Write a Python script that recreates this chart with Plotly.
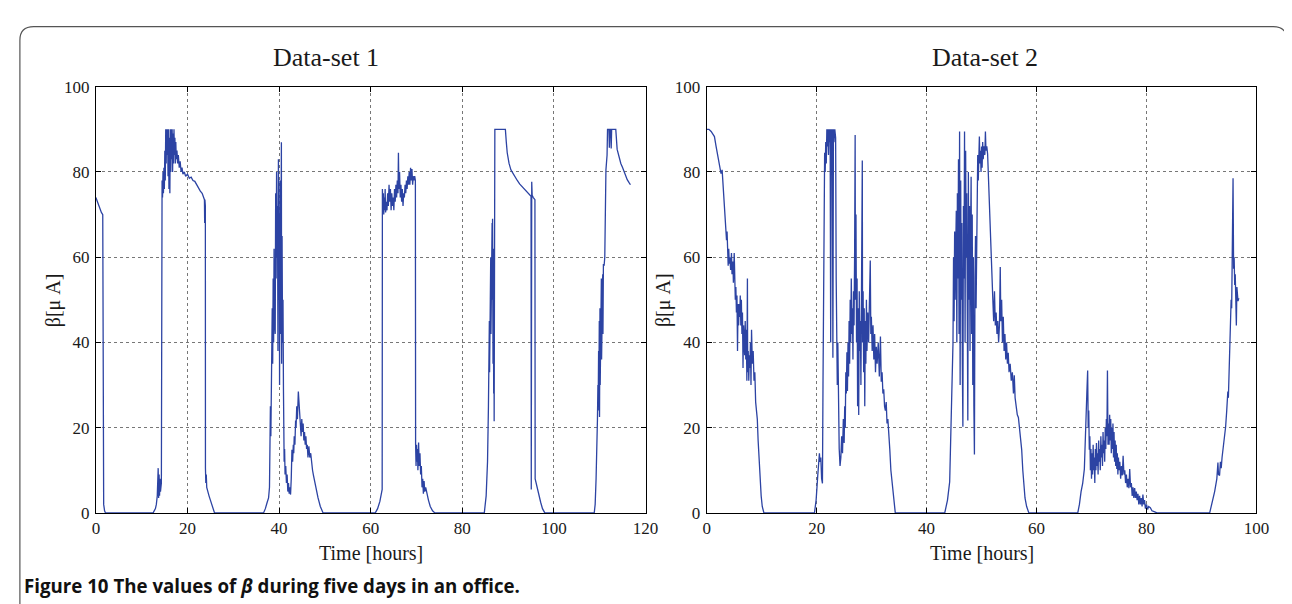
import plotly.graph_objects as go

# ---------------- data ----------------
hours_set1 = [
    0, 0.3, 0.6, 0.9, 1.2, 1.5, 1.55, 1.7, 1.9, 2.1,
    12.5, 13.0, 13.2, 13.4, 13.6, 13.7, 13.8, 13.9, 14.0, 14.1, 14.3, 14.4,
    14.45, 14.55, 14.65, 14.75, 14.85, 14.95, 15.05, 15.15, 15.25, 15.35, 15.45, 15.55, 15.65, 15.75,
    15.85, 15.95, 16.05, 16.15, 16.25, 16.35, 16.45, 16.55, 16.65, 16.75, 16.85, 16.95, 17.05, 17.15,
    17.25, 17.35, 17.45, 17.55, 17.7, 17.85, 18.0, 18.2, 18.4, 18.6, 18.8, 19.0, 19.3, 19.6, 20.0,
    20.4, 20.8, 21.2, 21.6, 22.0, 22.4, 22.8, 23.2, 23.5, 23.7, 23.75, 23.8, 23.9, 23.92, 24.0, 24.1,
    24.2, 24.4, 24.7, 25.0, 25.4, 25.9,
    36.6, 37.0, 37.4, 37.7, 37.9, 38.0, 38.1, 38.2, 38.3, 38.4, 38.5, 38.6, 38.7, 38.8, 38.9, 39.0,
    39.1, 39.15, 39.25, 39.35, 39.45, 39.55, 39.65, 39.75, 39.85, 39.95, 40.05, 40.1, 40.2, 40.3, 40.4,
    40.5, 40.55, 40.65, 40.75, 40.85, 40.95, 41.0, 41.1, 41.2, 41.3, 41.45, 41.6, 41.75, 41.9, 42.05,
    42.2, 42.35, 42.5, 42.65, 42.8, 42.95, 43.1, 43.2, 43.3, 43.45, 43.6, 43.7, 43.85, 44.0, 44.2,
    44.35, 44.5, 44.65, 44.8, 44.95, 45.1, 45.25, 45.4, 45.55, 45.7, 45.85, 46.0, 46.15, 46.3, 46.5,
    46.7, 46.9, 47.1, 47.3, 47.5, 47.8, 48.1, 48.5, 49.0, 49.6,
    61.0, 61.5, 62.0, 62.3, 62.5, 62.55, 62.65, 62.75, 62.85, 62.95, 63.05, 63.15, 63.25, 63.4, 63.55,
    63.7, 63.85, 64.0, 64.15, 64.3, 64.45, 64.6, 64.75, 64.9, 65.05, 65.2, 65.35, 65.5, 65.65, 65.8,
    65.95, 66.05, 66.15, 66.3, 66.45, 66.6, 66.75, 66.9, 67.05, 67.2, 67.35, 67.5, 67.65, 67.8, 67.95,
    68.1, 68.25, 68.4, 68.55, 68.7, 68.85, 69.0, 69.15, 69.3, 69.45, 69.6, 69.75, 69.8, 69.9, 70.0,
    70.1, 70.2, 70.3, 70.45, 70.6, 70.75, 70.9, 71.05, 71.2, 71.35, 71.5, 71.65, 71.8, 72.0, 72.3,
    72.6, 73.0, 73.5, 74.0,
    84.8, 85.2, 85.5, 85.7, 85.8, 85.9, 85.95, 86.05, 86.1, 86.2, 86.25, 86.35, 86.4, 86.5, 86.55,
    86.6, 86.7, 86.75, 86.85, 86.9, 86.95, 87.0, 87.05, 87.1, 87.5, 88.0, 88.5, 89.0, 89.4, 89.6,
    89.8, 90.2, 90.6, 91.0, 91.6, 92.0, 92.5, 93.0, 93.5, 94.0, 94.5, 95.0, 95.05, 95.15, 95.25,
    95.5, 95.85, 95.9, 96.1, 96.3, 96.5, 96.8, 97.1, 97.5, 98.0,
    108.8, 109.0, 109.2, 109.4, 109.5, 109.6, 109.65, 109.75, 109.8, 109.9, 109.95, 110.05, 110.1,
    110.2, 110.25, 110.35, 110.4, 110.5, 110.55, 110.65, 110.7, 110.8, 110.85, 110.95, 111.1, 111.35,
    111.6, 111.7, 112.0, 112.1, 112.2, 112.4, 112.5, 112.6, 113.0, 113.5, 113.8, 114.2, 114.6, 115.0,
    115.3, 115.7, 116.0, 116.4, 116.7,
]
beta_set1 = [
    74, 73, 72, 71, 70.5, 70, 3, 2, 0.5, 0,
    0, 1, 2, 4, 10.5, 3.5, 9, 4, 8, 5, 7, 77,
    78, 74, 80, 75, 81, 76, 85, 78, 90, 82, 90, 84, 90, 79,
    90, 76, 88, 75, 90, 80, 90, 83, 90, 80, 89, 82, 90, 84,
    88, 82, 87, 83, 85, 82, 84, 81, 82.5, 80, 81, 79.5, 80, 79, 79.5,
    78.5, 78.8, 78, 77.8, 77, 76.5, 75.5, 75, 74, 73.5, 68, 73.5, 72, 10.5, 7, 9,
    6, 5, 4, 3, 1.5, 0,
    0, 1, 2.5, 3.5, 6, 12, 25, 18, 38, 30, 48, 35, 55, 40, 62, 45,
    70, 42, 75, 55, 80, 60, 72, 38, 83, 50, 70, 30, 78, 42, 85,
    87, 35, 65, 40, 50, 29, 14, 12, 15, 9, 11, 7, 9, 5, 7,
    4.5, 6, 4.3, 8, 14.8, 12, 16, 14, 18, 16, 21.7, 20, 25, 22, 28.5,
    26, 22, 21, 18, 22, 19, 21, 17, 19, 16, 18, 15, 16, 13, 15.6,
    13, 14, 11, 10, 8.8, 7, 5, 3.5, 1.5, 0,
    0, 1, 2.7, 4, 5.5, 76, 72, 75, 70, 74, 71, 76, 70.5, 73, 71,
    75, 72, 77, 73, 76, 71, 75, 72, 74, 71, 76, 73, 77, 74, 78,
    75, 84.5, 76, 80, 74, 77, 73, 76, 72, 75, 74, 77, 75, 78, 76,
    79, 77, 80, 77, 81, 78, 80.7, 77, 79, 78, 79, 78, 16, 11, 16,
    12, 15, 10, 16.5, 11, 14, 9, 11, 6, 8, 4.5, 7.5, 5, 6, 4,
    3, 1.5, 0.5, 0,
    0, 4, 12, 25, 35, 45, 33, 55, 38, 60, 42, 65, 45, 68, 50,
    69, 35, 62, 28, 55, 21.5, 50, 35, 90, 90, 90, 90, 90, 90, 87,
    84.5, 82, 80.5, 79.8, 78.9, 78, 77.2, 76.6, 76, 75.5, 75, 74.3, 5.5, 77.7, 74.5,
    74, 73.5, 8, 7, 6, 5, 4, 2.5, 1, 0,
    0, 2, 8, 15, 22, 30, 24, 38, 27, 45, 22.5, 48, 30,
    52, 33, 55, 36, 50, 40, 56, 42, 58.4, 45, 58, 60, 80.5,
    84, 90, 90, 85.7, 90, 90, 85.5, 90, 90, 90, 85.3, 83.5, 82, 81,
    80, 79, 78.2, 77.5, 77,
]

hours_set2 = [
    0, 0.4, 0.8, 1.1, 1.4, 1.7, 2.0, 2.3, 2.6, 2.8, 3.0, 3.2, 3.4, 3.5, 3.6, 3.7, 3.8, 3.9, 4.0,
    4.1, 4.2, 4.35, 4.5, 4.6, 4.75, 4.85, 5.0, 5.1, 5.2, 5.3, 5.4, 5.5, 5.6, 5.7, 5.8, 5.9, 6.0,
    6.1, 6.2, 6.3, 6.4, 6.5, 6.6, 6.7, 6.8, 6.9, 7.0, 7.1, 7.2, 7.3, 7.4, 7.45, 7.55, 7.65, 7.75,
    7.85, 7.95, 8.05, 8.15, 8.3, 8.45, 8.6, 8.75, 8.9, 9.05, 9.2, 9.35, 9.5, 9.7, 9.9, 10.1, 10.4,
    19.6, 19.9, 20.2, 20.4, 20.5, 20.6, 20.75, 20.9, 21.05, 21.15, 21.25, 21.35, 21.45, 21.55, 21.65,
    21.75, 21.85, 21.95, 22.05, 22.15, 22.25, 22.35, 22.45, 22.55, 22.65, 22.75, 22.85, 22.95, 23.05,
    23.15, 23.3, 23.45, 23.55, 23.65, 23.75, 23.85, 23.95, 24.1, 24.25, 24.4, 24.55, 24.7, 24.85,
    25.0, 25.1, 25.2, 25.3, 25.4, 25.5, 25.6, 25.7, 25.8, 25.9, 26.0, 26.1, 26.2, 26.3, 26.4, 26.5,
    26.6, 26.7, 26.8, 26.9, 27.0, 27.05, 27.15, 27.25, 27.35, 27.45, 27.55, 27.65, 27.75, 27.85,
    27.95, 28.05, 28.15, 28.3, 28.35, 28.45, 28.55, 28.65, 28.75, 28.85, 28.95, 29.05, 29.15, 29.3,
    29.45, 29.6, 29.75, 29.85, 29.95, 30.1, 30.25, 30.4, 30.55, 30.7, 30.85, 31.0, 31.2, 31.4, 31.6,
    31.75, 31.9, 32.05, 32.2, 32.35, 32.5, 32.65, 32.8, 32.95, 33.1, 33.3, 33.5, 33.7, 34.0, 34.3,
    43.3, 43.8, 44.2, 44.5, 44.8, 44.9, 45.0, 45.1, 45.2, 45.3, 45.4, 45.5, 45.6, 45.7, 45.8, 45.9,
    46.0, 46.1, 46.2, 46.3, 46.4, 46.5, 46.6, 46.7, 46.8, 46.9, 47.0, 47.1, 47.2, 47.3, 47.4, 47.5,
    47.6, 47.7, 47.8, 47.9, 48.0, 48.1, 48.2, 48.3, 48.4, 48.5, 48.6, 48.7, 48.8, 48.9, 49.0, 49.1,
    49.2, 49.3, 49.4, 49.5, 49.6, 49.7, 49.8, 49.9, 50.0, 50.1, 50.2, 50.3, 50.45, 50.6, 50.7, 50.8,
    50.95, 51.1, 51.25, 51.4, 51.55, 51.7, 51.85, 51.95, 52.05, 52.2, 52.35, 52.5, 52.65, 52.8,
    52.95, 53.1, 53.25, 53.4, 53.5, 53.65, 53.8, 53.95, 54.1, 54.25, 54.4, 54.55, 54.7, 54.85, 55.0,
    55.2, 55.4, 55.6, 55.8, 55.95, 56.1, 56.3, 56.5, 56.7, 56.9, 57.1, 57.3, 57.5, 57.7, 57.9, 58.2,
    58.6,
    67.5, 67.8, 68.1, 68.4, 68.7, 68.85, 69.0, 69.15, 69.3, 69.4, 69.5, 69.6, 69.7, 69.8, 69.9, 70.0,
    70.1, 70.2, 70.3, 70.4, 70.5, 70.6, 70.7, 70.8, 70.9, 71.0, 71.1, 71.2, 71.3, 71.4, 71.5, 71.6,
    71.7, 71.8, 71.9, 72.0, 72.1, 72.2, 72.3, 72.4, 72.5, 72.6, 72.7, 72.8, 72.9, 73.0, 73.1, 73.2,
    73.3, 73.4, 73.5, 73.6, 73.7, 73.8, 73.9, 74.0, 74.1, 74.2, 74.3, 74.4, 74.5, 74.6, 74.7, 74.8,
    74.9, 75.0, 75.15, 75.3, 75.45, 75.6, 75.75, 75.9, 76.05, 76.2, 76.35, 76.5, 76.65, 76.8, 76.95,
    77.1, 77.25, 77.4, 77.55, 77.7, 77.85, 78.0, 78.15, 78.3, 78.45, 78.6, 78.75, 78.9, 79.05, 79.2,
    79.35, 79.5, 79.65, 79.8, 80.0, 80.2, 80.4, 80.7, 81.0, 81.4, 81.9,
    91.5, 91.9, 92.4, 92.8, 93.0, 93.1, 93.3, 93.45, 93.6, 93.75, 93.9, 94.1, 94.25, 94.4, 94.6,
    94.8, 94.9, 95.0, 95.1, 95.2, 95.3, 95.4, 95.5, 95.6, 95.65, 95.75, 95.85, 95.95, 96.05, 96.15,
    96.25, 96.35, 96.45, 96.55, 96.65, 96.8,
]
beta_set2 = [
    90, 90, 89.5, 89, 88.3, 86, 83.8, 82, 79.6, 80.5, 76, 73.9, 70, 67, 64, 66, 63.4, 58, 62,
    58.5, 60, 57, 61, 56, 59, 54, 61, 54, 50, 53, 47, 51, 38, 49, 44, 49, 46,
    51, 44, 50, 42, 47, 34, 44, 40, 37, 45, 36, 43, 31, 55, 33, 38, 31, 37,
    34, 40, 30, 43, 35, 38, 31, 33, 26, 24, 22, 17, 12.6, 8, 4, 1.5, 0,
    0, 3, 8.8, 13, 14, 12, 13, 8, 6.9, 30, 60, 55.8, 84.5, 80, 87,
    82, 90, 86, 90, 84, 90, 87, 90, 40, 90, 88, 90, 36.4, 90,
    87, 90, 88, 55, 45, 30, 40, 20, 15, 11, 13, 18, 14, 22,
    16.4, 25, 20, 33, 28, 37.7, 28.6, 40, 32, 45, 35, 50, 40, 55, 42, 48,
    36, 52, 44, 60, 88.7, 50, 70, 40, 55, 25, 48, 23, 52, 38,
    45, 30, 55, 82.7, 40, 52, 33, 48, 25, 45, 35, 50, 38, 47,
    40, 50, 59.2, 42, 46, 38, 44, 36, 42, 33, 39, 35, 40, 32, 41.4,
    30.8, 33, 28, 29, 25, 24, 26, 21, 22, 19.4, 15, 10, 7.3, 3, 0,
    0, 3, 7.3, 21, 39.8, 60, 45, 66, 50, 62, 70.9, 40, 75, 55, 83, 42,
    89.5, 30, 78, 50, 68, 35, 20.2, 72, 55, 89.5, 40, 85, 60, 75, 45, 21.7,
    80, 50, 72, 38, 65, 78.9, 42, 70, 30, 60, 25, 13.7, 55, 65, 48, 70,
    80, 84, 78, 86, 88.3, 82, 85, 80, 86, 81, 87, 83, 86, 84, 89.5, 85,
    86, 84.2, 78, 73.6, 69, 65, 58, 54.2, 50, 45, 52, 44, 47, 42,
    45, 40, 44, 57.7, 45, 50, 40, 46, 38, 42, 36, 40, 35, 37.6, 33,
    35, 31, 33, 28, 32.3, 27, 25, 23, 22.4, 20, 17, 14.8, 10, 6, 3.5, 1.5,
    0,
    0, 2, 5, 7, 10.3, 18, 22.4, 28, 33.4, 20, 24, 14.8, 18, 10, 15, 8,
    14, 9, 16, 10, 13, 7, 15, 10, 16.4, 11, 14, 9, 17, 12, 15, 10,
    18, 13, 16, 11, 19, 14, 17, 12, 20, 15, 22, 18, 33.4, 16, 21, 16,
    23, 17, 22, 14, 20, 15, 21, 13, 19, 12, 17, 11, 16, 10.3, 14, 9,
    13, 10, 12, 8, 11, 8.8, 13.4, 9, 10, 7, 9, 6, 8, 5.8, 10.3,
    6, 7, 4, 6, 3.5, 5.8, 3.5, 5, 3, 4.5, 2, 4, 2, 3.5, 1.5,
    4.3, 2, 3, 1, 2, 0.8, 1.5, 1.2, 0.5, 0.3, 0,
    0, 2, 5, 8, 11.8, 9, 8.8, 12, 10.5, 13, 14.8, 16, 18, 20.2, 24,
    28.5, 27, 33, 36, 41.4, 45, 50, 48, 63.7, 55, 78.5, 57.3, 60, 53.5, 56,
    50, 44, 53, 51, 49.7, 50.4,
]

panel_titles = ["Data-set 1", "Data-set 2"]
x_ranges = [[0, 120], [0, 100]]
y_range = [0, 100]
tick_step = 20
x_title = "Time [hours]"
y_title = "β[μ A]"
caption = "<b>Figure 10 The values of <i>β</i> during five days in an office.</b>"

# ---------------- layout helpers ----------------
W, H = 1292, 604
def px(x):
    return x / W
def py(y):
    return 1 - y / H

LINE = "#2c43a3"
SERIF = "Liberation Serif, Times New Roman, serif"

fig = go.Figure()
fig.add_trace(go.Scatter(x=hours_set1, y=beta_set1, mode="lines",
                         line=dict(color=LINE, width=1.3), xaxis="x", yaxis="y",
                         showlegend=False, hoverinfo="skip"))
fig.add_trace(go.Scatter(x=hours_set2, y=beta_set2, mode="lines",
                         line=dict(color=LINE, width=1.3), xaxis="x2", yaxis="y2",
                         showlegend=False, hoverinfo="skip"))

plot_left = [85, 704]
plot_right = [642, 1261]
plot_top, plot_bottom = 72, 512

axis_common = dict(
    showline=True, linecolor="black", linewidth=1, mirror="ticks",
    ticks="inside", ticklen=5, tickcolor="black", tickwidth=1,
    showgrid=True, gridcolor="#777777", griddash="dot", gridwidth=1,
    zeroline=False, tickfont=dict(family=SERIF, size=17, color="#1a1a1a"),
    dtick=tick_step, tick0=0,
)

fig.update_layout(
    width=W, height=H,
    margin=dict(l=0, r=0, t=0, b=0),
    paper_bgcolor="white", plot_bgcolor="white",
    xaxis=dict(domain=[px(plot_left[0]), px(plot_right[0])], range=x_ranges[0],
               anchor="y", ticklabelstandoff=0, **axis_common),
    yaxis=dict(domain=[py(plot_bottom), py(plot_top)], range=y_range,
               anchor="x", ticklabelstandoff=2, **axis_common),
    xaxis2=dict(domain=[px(plot_left[1]), px(plot_right[1])], range=x_ranges[1],
                anchor="y2", ticklabelstandoff=0, **axis_common),
    yaxis2=dict(domain=[py(plot_bottom), py(plot_top)], range=y_range,
                anchor="x2", ticklabelstandoff=2, **axis_common),
)

annotations = []
title_centers = [318, 986]
for i in range(2):
    annotations.append(dict(text=panel_titles[i], x=px(title_centers[i]), y=py(42),
                            xref="paper", yref="paper", showarrow=False,
                            xanchor="center", yanchor="middle",
                            font=dict(family=SERIF, size=26, color="#1a1a1a")))
    cx = (plot_left[i] + plot_right[i]) / 2
    annotations.append(dict(text=x_title, x=px(cx), y=py(553),
                            xref="paper", yref="paper", showarrow=False,
                            xanchor="center", yanchor="middle",
                            font=dict(family=SERIF, size=20, color="#1a1a1a")))
    annotations.append(dict(text=y_title, x=px(plot_left[i] - 43), y=py(292),
                            xref="paper", yref="paper", showarrow=False, textangle=-90,
                            xanchor="center", yanchor="middle",
                            font=dict(family=SERIF, size=20, color="#1a1a1a")))
annotations.append(dict(text=caption, x=px(10), y=py(587), xref="paper", yref="paper",
                        showarrow=False, xanchor="left", yanchor="middle",
                        font=dict(family="Open Sans, sans-serif", size=18.7, color="#111111")))
fig.update_layout(annotations=annotations)

# rounded frame around the figure (partly outside the image)
frame_path = (f"M {px(8)},{py(640)} L {px(8)},{py(24)} Q {px(8)},{py(10)} {px(22)},{py(10)} "
              f"L {px(1278)},{py(10)} Q {px(1292)},{py(10)} {px(1292)},{py(24)} L {px(1292)},{py(640)}")
fig.add_shape(type="path", path=frame_path, xref="paper", yref="paper",
              line=dict(color="#555555", width=1.2), layer="below")

fig.write_html("out.html")
